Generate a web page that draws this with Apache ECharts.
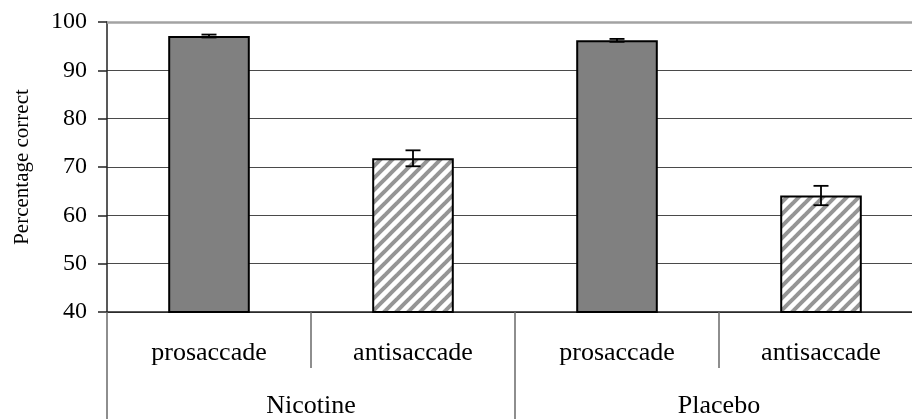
<!DOCTYPE html>
<html>
<head>
<meta charset="utf-8">
<script src="https://cdn.jsdelivr.net/npm/echarts@6/dist/echarts.min.js"></script>
<style>
  html, body { margin: 0; padding: 0; background: #fff; }
  #chart { width: 912px; height: 419px; }
</style>
</head>
<body>
<div id="chart"></div>
<script>
// Saccade task accuracy by drug condition
const conditions = ['prosaccade', 'antisaccade', 'prosaccade', 'antisaccade'];
const groups = ['Nicotine', 'Placebo'];
const meanCorrect = [97.1, 71.8, 96.2, 64.1];
const stdError = [0.3, 1.65, 0.3, 2.0];
const yMin = 40, yMax = 100, yStep = 10;

const FONT = "'Liberation Serif', 'Times New Roman', serif";

// Diagonal hatch tile for the antisaccade bars
function makeHatch() {
  const s = 12;
  const c = document.createElement('canvas');
  c.width = s; c.height = s;
  const g = c.getContext('2d');
  g.fillStyle = '#ffffff';
  g.fillRect(0, 0, s, s);
  g.strokeStyle = '#959595';
  g.lineWidth = 4;
  [0, s, 2 * s].forEach(k => {
    g.beginPath();
    g.moveTo(-s, k + s);
    g.lineTo(k + s, -s);
    g.stroke();
  });
  return c;
}
const hatch = makeHatch();

const barData = meanCorrect.map((v, i) => ({
  value: v,
  itemStyle: {
    color: i % 2 === 0 ? '#808080' : { image: hatch, repeat: 'repeat' },
    borderColor: '#000',
    borderWidth: 2
  }
}));

const errData = meanCorrect.map((v, i) => [i, v, v - stdError[i], v + stdError[i]]);

const chart = echarts.init(document.getElementById('chart'), null, { renderer: 'canvas' });

chart.setOption({
  animation: false,
  backgroundColor: '#ffffff',
  // the plot runs a little past the right edge of the canvas
  grid: { left: 107, top: 22, right: -11, bottom: 107, containLabel: false, outerBoundsMode: 'none' },
  xAxis: [
    {
      type: 'category',
      data: conditions,
      position: 'bottom',
      axisLine: { show: true, lineStyle: { color: '#222', width: 1.5 } },
      axisTick: { show: true, length: 56, interval: 0, lineStyle: { color: '#6a6a6a', width: 1.5 } },
      axisLabel: { interval: 0, margin: 28, color: '#000', fontFamily: FONT, fontSize: 26 }
    },
    {
      type: 'category',
      data: groups,
      position: 'bottom',
      axisLine: { show: false },
      axisTick: { show: true, length: 108, interval: 0, lineStyle: { color: '#6a6a6a', width: 1.5 } },
      axisLabel: { interval: 0, margin: 81, color: '#000', fontFamily: FONT, fontSize: 26 }
    }
  ],
  yAxis: {
    type: 'value',
    min: yMin,
    max: yMax,
    interval: yStep,
    name: 'Percentage correct',
    nameLocation: 'middle',
    nameGap: 74,
    nameTextStyle: { color: '#000', fontFamily: FONT, fontSize: 21 },
    axisLine: { show: true, lineStyle: { color: '#222', width: 1.5 } },
    axisTick: { show: true, length: 9, lineStyle: { color: '#222', width: 1.5 } },
    axisLabel: { margin: 20, color: '#000', fontFamily: FONT, fontSize: 24 },
    splitLine: { show: true, lineStyle: { color: '#4a4a4a', width: 1 } }
  },
  series: [
    {
      type: 'bar',
      xAxisIndex: 0,
      data: barData,
      barWidth: '40%',
      z: 2,
      markLine: {
        silent: true,
        symbol: 'none',
        label: { show: false },
        lineStyle: { color: '#a3a3a3', width: 2.5, type: 'solid' },
        data: [{ yAxis: yMax }]
      }
    },
    {
      type: 'custom',
      xAxisIndex: 0,
      z: 5,
      data: errData,
      renderItem: function (params, api) {
        const idx = api.value(0);
        const lo = api.coord([idx, api.value(2)]);
        const hi = api.coord([idx, api.value(3)]);
        const x = lo[0];
        const cap = 7.5;
        const style = { stroke: '#000', lineWidth: 1.8 };
        return {
          type: 'group',
          children: [
            { type: 'line', shape: { x1: x, y1: hi[1], x2: x, y2: lo[1] }, style: style },
            { type: 'line', shape: { x1: x - cap, y1: hi[1], x2: x + cap, y2: hi[1] }, style: style },
            { type: 'line', shape: { x1: x - cap, y1: lo[1], x2: x + cap, y2: lo[1] }, style: style }
          ]
        };
      }
    }
  ]
});
</script>
</body>
</html>
